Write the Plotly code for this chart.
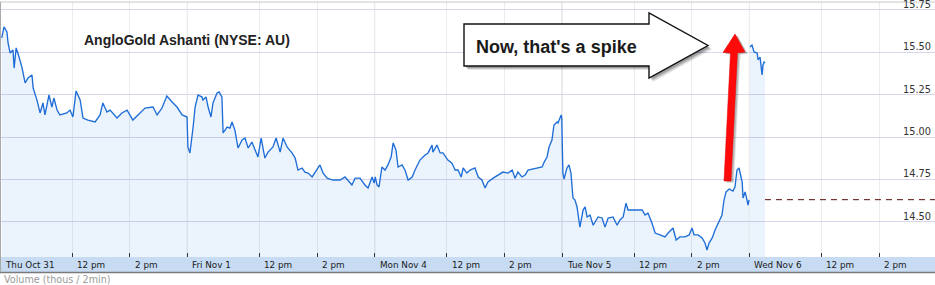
import plotly.graph_objects as go

# ---------------- data ----------------
SESSION_HOURS = 6.5  # 9:30 am - 4:00 pm
day_labels = ["Thu Oct 31", "Fri Nov 1", "Mon Nov 4", "Tue Nov 5", "Wed Nov 6"]
intraday_labels = ["12 pm", "2 pm"]
intraday_hours = [2.5, 4.5]  # hours after the open
price_ticks = [14.50, 14.75, 15.00, 15.25, 15.50, 15.75]
prev_close = 14.63

thu_hours = [0.06, 0.14, 0.24, 0.28, 0.35, 0.45, 0.49, 0.56, 0.62, 0.76, 0.87, 0.97, 1.11, 1.15, 1.28,
             1.39, 1.49, 1.56, 1.70, 1.80, 1.87, 1.98, 2.08, 2.32, 2.43, 2.53, 2.64, 2.78, 2.88, 3.05,
             3.30, 3.47, 3.57, 3.71, 3.82, 4.06, 4.23, 4.41, 4.61, 4.86, 5.03, 5.31, 5.45, 5.62, 5.79,
             5.97, 6.14, 6.32, 6.49]
thu_price = [15.585, 15.650, 15.620, 15.555, 15.496, 15.514, 15.407, 15.526, 15.496, 15.413,
             15.319, 15.348, 15.366, 15.289, 15.219, 15.142, 15.201, 15.130, 15.248, 15.177,
             15.230, 15.159, 15.130, 15.142, 15.159, 15.118, 15.272, 15.219, 15.112, 15.100,
             15.089, 15.130, 15.201, 15.148, 15.159, 15.112, 15.142, 15.159, 15.100, 15.142,
             15.171, 15.177, 15.130, 15.171, 15.242, 15.207, 15.177, 15.130, 15.118]

fri_hours = [0.02, 0.09, 0.20, 0.27, 0.37, 0.51, 0.54, 0.65, 0.72, 0.82, 0.89, 1.03, 1.10, 1.20, 1.24,
             1.38, 1.48, 1.55, 1.65, 1.76, 1.90, 2.00, 2.11, 2.24, 2.35, 2.45, 2.56, 2.63, 2.69, 2.80,
             2.97, 3.08, 3.22, 3.32, 3.46, 3.63, 3.74, 3.84, 3.98, 4.08, 4.19, 4.33, 4.43, 4.60, 4.71,
             4.85, 5.05, 5.30, 5.47, 5.57, 5.71, 5.82, 5.99, 6.16, 6.27, 6.41, 6.48]
fri_price = [14.941, 14.906, 15.059, 15.177, 15.248, 15.236, 15.219, 15.236, 15.177, 15.118,
             15.201, 15.260, 15.266, 15.236, 15.024, 15.059, 15.053, 15.089, 15.041, 14.935,
             14.982, 14.994, 14.935, 14.970, 14.923, 14.882, 14.994, 14.941, 14.876, 14.911,
             14.941, 14.994, 14.911, 14.994, 14.941, 14.906, 14.876, 14.805, 14.817, 14.793,
             14.787, 14.764, 14.793, 14.835, 14.787, 14.757, 14.746, 14.746, 14.764, 14.746,
             14.717, 14.757, 14.757, 14.717, 14.699, 14.764, 14.728]

mon_hours = [0.02, 0.08, 0.15, 0.25, 0.36, 0.46, 0.57, 0.64, 0.74, 0.81, 0.95, 1.05, 1.16, 1.30, 1.40,
             1.57, 1.75, 1.85, 1.99, 2.02, 2.16, 2.27, 2.37, 2.54, 2.68, 2.79, 2.89, 3.00, 3.07, 3.20,
             3.31, 3.48, 3.59, 3.72, 3.83, 3.93, 4.11, 4.28, 4.45, 4.63, 4.77, 4.87, 4.97, 5.11, 5.22,
             5.32, 5.49, 5.67, 5.81, 5.88, 5.98, 6.05, 6.15, 6.22, 6.33, 6.36, 6.47, 6.49]
mon_price = [14.764, 14.717, 14.705, 14.823, 14.805, 14.835, 14.882, 14.965, 14.923, 14.823,
             14.835, 14.805, 14.746, 14.764, 14.805, 14.864, 14.894, 14.906, 14.953, 14.911,
             14.953, 14.906, 14.906, 14.864, 14.846, 14.805, 14.805, 14.764, 14.817, 14.787,
             14.805, 14.817, 14.764, 14.746, 14.699, 14.734, 14.757, 14.776, 14.793, 14.787,
             14.805, 14.757, 14.793, 14.764, 14.776, 14.805, 14.811, 14.817, 14.823, 14.852,
             14.882, 14.941, 14.982, 15.071, 15.089, 15.083, 15.130, 15.112]

tue_hours = [0.03, 0.07, 0.17, 0.24, 0.31, 0.38, 0.45, 0.52, 0.62, 0.73, 0.80, 0.87, 0.97, 1.08, 1.25,
             1.39, 1.49, 1.60, 1.77, 1.91, 2.01, 2.12, 2.22, 2.29, 2.43, 2.60, 2.78, 2.88, 2.98, 3.12,
             3.23, 3.40, 3.57, 3.68, 3.85, 3.96, 4.09, 4.27, 4.41, 4.51, 4.58, 4.72, 4.86, 4.96, 5.03,
             5.10, 5.21, 5.31, 5.41, 5.55, 5.62, 5.69, 5.80, 5.93, 6.00, 6.07, 6.14, 6.25, 6.28, 6.35,
             6.42, 6.45, 6.49]
tue_price = [14.787, 14.752, 14.817, 14.835, 14.787, 14.640, 14.628, 14.587, 14.468, 14.569,
             14.587, 14.528, 14.539, 14.479, 14.528, 14.522, 14.468, 14.522, 14.528, 14.479,
             14.510, 14.528, 14.610, 14.569, 14.569, 14.569, 14.569, 14.539, 14.551, 14.492,
             14.433, 14.422, 14.410, 14.433, 14.463, 14.392, 14.410, 14.410, 14.422, 14.463,
             14.422, 14.422, 14.404, 14.374, 14.333, 14.374, 14.404, 14.451, 14.492, 14.539,
             14.628, 14.676, 14.693, 14.681, 14.705, 14.805, 14.817, 14.734, 14.640, 14.676,
             14.628, 14.598, 14.628]

wed_hours = [0.02, 0.09, 0.16, 0.27, 0.30, 0.37, 0.44, 0.47, 0.51, 0.54]
wed_price = [15.531, 15.543, 15.502, 15.496, 15.455, 15.472, 15.366, 15.425, 15.443, 15.437]

# ---------------- geometry ----------------
W, H = 935, 285
ML, MR, MT, MB = 0, 0, 2, 28
PW, PH = W - ML - MR, H - MT - MB
X_RANGE = [0, 32.44]
Y_RANGE = [14.2916, 15.797]


def pxx(x):
    return (x - ML) / PW


def pxy(y):
    return (H - MB - y) / PH


def path(points):
    return "M " + " L ".join(f"{pxx(a):.5f},{pxy(b):.5f}" for a, b in points) + " Z"


# ---------------- build series ----------------
main_x, main_y = [], []
for d, (hrs, prc) in enumerate([(thu_hours, thu_price), (fri_hours, fri_price),
                                (mon_hours, mon_price), (tue_hours, tue_price)]):
    main_x += [d * SESSION_HOURS + h for h in hrs]
    main_y += prc
wed_x = [4 * SESSION_HOURS + h for h in wed_hours]

LINE = "#1f6ed8"
FILL = "rgba(30,120,230,0.09)"

fig = go.Figure()
for xs, ys in [(main_x, main_y), (wed_x, wed_price)]:
    fig.add_trace(go.Scatter(x=xs, y=ys, mode="lines", line=dict(color=LINE, width=1.35),
                             fill="tozeroy", fillcolor=FILL, hoverinfo="skip", showlegend=False))

tickvals = []
for d in range(len(day_labels)):
    tickvals.append(d * SESSION_HOURS)
    tickvals += [d * SESSION_HOURS + h for h in intraday_hours]

shapes = []
# axis band under the plot
shapes.append(dict(type="rect", xref="paper", yref="paper", x0=0, x1=1, y0=pxy(272), y1=pxy(257),
                   fillcolor="#c7dcf3", line=dict(width=0), layer="below"))
shapes.append(dict(type="line", xref="paper", yref="paper", x0=0, x1=1, y0=pxy(272.5), y1=pxy(272.5),
                   line=dict(color="#7a7a7a", width=1.5)))
# top border and left border
shapes.append(dict(type="line", xref="paper", yref="paper", x0=0, x1=1, y0=1, y1=1,
                   line=dict(color="#c8c8c8", width=1)))
shapes.append(dict(type="line", xref="paper", yref="paper", x0=pxx(0.5), x1=pxx(0.5), y0=pxy(272), y1=1,
                   line=dict(color="#aaaaaa", width=1)))
# darker day separators
for d in range(1, len(day_labels)):
    shapes.append(dict(type="line", xref="x", yref="paper", x0=d * SESSION_HOURS, x1=d * SESSION_HOURS,
                       y0=0, y1=1, line=dict(color="#d0d4d4", width=1), layer="below"))
# previous close dashed line
shapes.append(dict(type="line", xref="x", yref="y", x0=wed_x[-1], x1=X_RANGE[1], y0=prev_close, y1=prev_close,
                   line=dict(color="#5a0c0c", width=1, dash="6px,5px")))

# block arrow callout with soft shadow
block = [(464, 24), (649, 24), (649, 13), (708, 45.5), (649, 78), (649, 66), (464, 66)]
for off, a in [(4, 0.10), (3, 0.15), (2, 0.2)]:
    shapes.append(dict(type="path", xref="paper", yref="paper",
                       path=path([(x + off, y + off) for x, y in block]),
                       fillcolor=f"rgba(0,0,0,{a})", line=dict(width=0)))
shapes.append(dict(type="path", xref="paper", yref="paper", path=path(block),
                   fillcolor="white", line=dict(color="#111", width=1.4)))

# red arrow with shadow
red = [(724, 181), (730.5, 53), (723, 52.5), (735, 34), (745, 52), (737.5, 53), (731, 181)]
for off, a in [(3, 0.12), (2, 0.18)]:
    shapes.append(dict(type="path", xref="paper", yref="paper",
                       path=path([(x + off, y + off * 0.6) for x, y in red]),
                       fillcolor=f"rgba(0,0,0,{a})", line=dict(width=0)))
shapes.append(dict(type="path", xref="paper", yref="paper", path=path(red),
                   fillcolor="#ff0a0a", line=dict(color="#e00000", width=0.5)))

annotations = []
FONT = "DejaVu Sans"
for d, lab in enumerate(day_labels):
    names = [lab] + intraday_labels
    offs = [0] + intraday_hours
    for name, h in zip(names, offs):
        annotations.append(dict(x=d * SESSION_HOURS + h, xref="x", y=pxy(264.5), yref="paper",
                                text=name, showarrow=False, xanchor="left", yanchor="middle", xshift=3,
                                font=dict(family=FONT, size=8.8, color="#1a1a1a")))
# price labels sit just above their grid lines, at the right edge
for v in price_ticks:
    annotations.append(dict(x=1, xref="paper", y=v, yref="y", text=f"{v:.2f}", showarrow=False,
                            xanchor="right", yanchor="bottom", xshift=-2, yshift=-2,
                            font=dict(family=FONT, size=9.8, color="#333")))
annotations.append(dict(x=0, xref="paper", y=pxy(279.5), yref="paper", text="Volume (thous / 2min)",
                        showarrow=False, xanchor="left", yanchor="middle", xshift=2,
                        font=dict(family=FONT, size=9.6, color="#9a9a9a")))
annotations.append(dict(x=pxx(82), xref="paper", y=pxy(39.5), yref="paper",
                        text="<b>AngloGold Ashanti (NYSE: AU)</b>", showarrow=False,
                        xanchor="left", yanchor="middle",
                        font=dict(family="Liberation Sans", size=14, color="#222")))
annotations.append(dict(x=pxx(474), xref="paper", y=pxy(46.5), yref="paper",
                        text="<b>Now, that's a spike</b>", showarrow=False,
                        xanchor="left", yanchor="middle",
                        font=dict(family="Liberation Sans", size=18, color="#1a1a1a")))

fig.update_layout(
    width=W, height=H,
    margin=dict(l=ML, r=MR, t=MT, b=MB, pad=0),
    paper_bgcolor="white", plot_bgcolor="white",
    showlegend=False,
    shapes=shapes, annotations=annotations,
    xaxis=dict(range=X_RANGE, tickvals=tickvals, showticklabels=False, ticks="inside", ticklen=4,
               tickcolor="#333", tickwidth=1, showgrid=True, gridcolor="#ececec", gridwidth=1,
               zeroline=False, showline=False, fixedrange=True),
    yaxis=dict(range=Y_RANGE, side="right", tickvals=price_ticks, showticklabels=False,
               ticks="", showgrid=True, gridcolor="#d9d5ea", gridwidth=1, zeroline=False,
               showline=False, fixedrange=True),
)

fig.write_html("out.html")
